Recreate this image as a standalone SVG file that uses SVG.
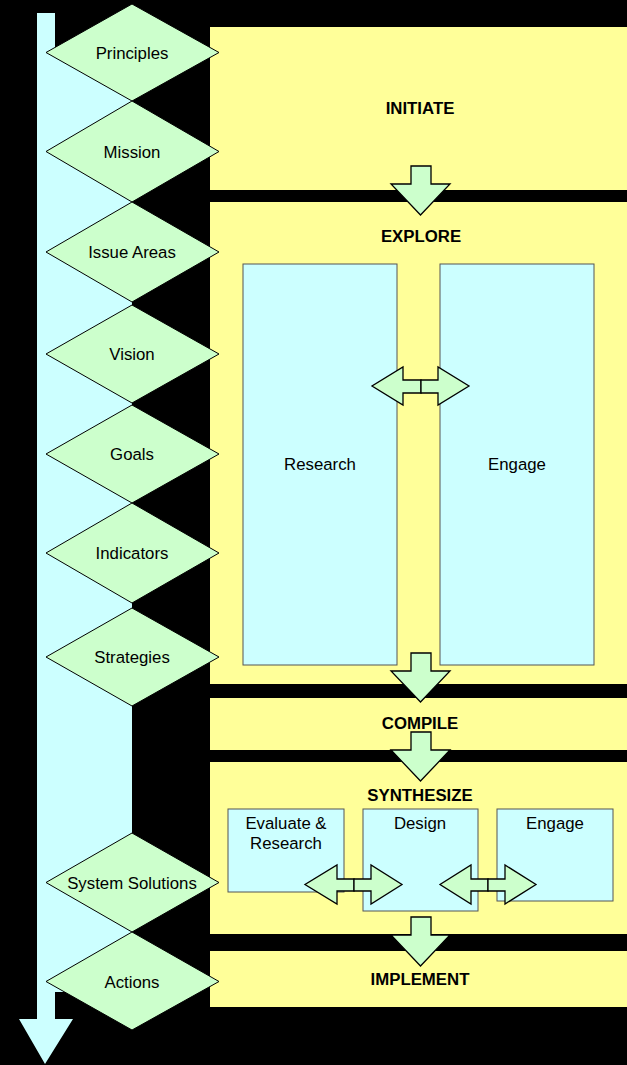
<svg xmlns="http://www.w3.org/2000/svg" width="627" height="1065" viewBox="0 0 627 1065">
<defs>
<style>
.panel{fill:#FFFF99;}
.box{fill:#CCFFFF;stroke:#555;stroke-width:1;}
.dia{fill:#CCFFCC;stroke:#000;stroke-width:1;}
.arr{fill:#CCFFCC;stroke:#000;stroke-width:1.3;stroke-linejoin:miter;}
.t{font-family:"Liberation Sans",Arial,sans-serif;font-size:16.8px;fill:#000;text-anchor:middle;}
.b{font-weight:bold;}
</style>
</defs>
<rect x="0" y="0" width="627" height="1065" fill="#000"/>
<g id="timeline">
<polygon points="37,13 55,13 55,48 132,48 132,992 55,992 55,1019 73,1019 45,1064 19,1019 37,1019" fill="#CCFFFF"/>
</g>
<g id="initiate">
<rect class="panel" x="210" y="27" width="417" height="163"/>
<text class="t b" x="420" y="114">INITIATE</text>
</g>
<g id="explore">
<rect class="panel" x="210" y="202" width="417" height="482"/>
<text class="t b" x="421" y="242">EXPLORE</text>
</g>
<g id="research">
<rect class="box" x="243" y="264" width="154" height="401"/>
<text class="t" x="320" y="470">Research</text>
</g>
<g id="engage1">
<rect class="box" x="440" y="264" width="154" height="401"/>
<text class="t" x="517" y="470">Engage</text>
</g>
<g id="compile">
<rect class="panel" x="210" y="698" width="417" height="52"/>
<text class="t b" x="420" y="729">COMPILE</text>
</g>
<g id="synthesize">
<rect class="panel" x="210" y="762" width="417" height="172"/>
<text class="t b" x="420" y="801">SYNTHESIZE</text>
</g>
<g id="evaluate">
<rect class="box" x="228" y="809" width="116" height="83"/>
<text class="t" x="286" y="829">Evaluate &amp;</text>
<text class="t" x="286" y="849">Research</text>
</g>
<g id="design">
<rect class="box" x="363" y="809" width="115" height="102"/>
<text class="t" x="420" y="829">Design</text>
</g>
<g id="engage2">
<rect class="box" x="497" y="809" width="116" height="92"/>
<text class="t" x="555" y="829">Engage</text>
</g>
<g id="implement">
<rect class="panel" x="210" y="951" width="417" height="56"/>
<text class="t b" x="420" y="985">IMPLEMENT</text>
</g>
<g id="connectors">
<path class="arr" d="M411,166 H431 V184 H450 L420.5,215 L391,184 H411 Z"/>
<path class="arr" d="M411,653 H431 V671 H450 L420.5,702 L391,671 H411 Z"/>
<path class="arr" d="M411,732 H431 V750 H450 L420.5,781 L391,750 H411 Z"/>
<path class="arr" d="M411,917 H431 V935 H450 L420.5,966 L391,935 H411 Z"/>
<path class="arr" d="M421,380 H403 V367 L372,386 L403,405 V393 H421 Z"/>
<path class="arr" d="M421,380 H438 V367 L469,386 L438,405 V393 H421 Z"/>
<path class="arr" d="M354,879 H337 V865 L305,884.5 L337,904 V891 H354 Z"/>
<path class="arr" d="M354,879 H371 V865 L402,884.5 L371,904 V891 H354 Z"/>
<path class="arr" d="M488,879 H471 V865 L440,884.5 L471,904 V891 H488 Z"/>
<path class="arr" d="M488,879 H505 V865 L536,884.5 L505,904 V891 H488 Z"/>
</g>
<g id="principles">
<polygon class="dia" points="132,4 219,52.5 132,101 46,52.5"/>
<text class="t" x="132" y="58.5">Principles</text>
</g>
<g id="mission">
<polygon class="dia" points="132,101 219,151.5 132,202 46,151.5"/>
<text class="t" x="132" y="157.5">Mission</text>
</g>
<g id="issue-areas">
<polygon class="dia" points="132,202 219,252 132,302 46,252"/>
<text class="t" x="132" y="258">Issue Areas</text>
</g>
<g id="vision">
<polygon class="dia" points="132,305 219,354 132,403 46,354"/>
<text class="t" x="132" y="360">Vision</text>
</g>
<g id="goals">
<polygon class="dia" points="132,405 219,454 132,503 46,454"/>
<text class="t" x="132" y="460">Goals</text>
</g>
<g id="indicators">
<polygon class="dia" points="132,503 219,553 132,603 46,553"/>
<text class="t" x="132" y="559">Indicators</text>
</g>
<g id="strategies">
<polygon class="dia" points="132,608 219,657 132,706 46,657"/>
<text class="t" x="132" y="663">Strategies</text>
</g>
<g id="system-solutions">
<polygon class="dia" points="132,833 219,882.5 132,932 46,882.5"/>
<text class="t" x="132" y="888.5">System Solutions</text>
</g>
<g id="actions">
<polygon class="dia" points="132,932 219,981.5 132,1030 46,981.5"/>
<text class="t" x="132" y="987.5">Actions</text>
</g>
</svg>
